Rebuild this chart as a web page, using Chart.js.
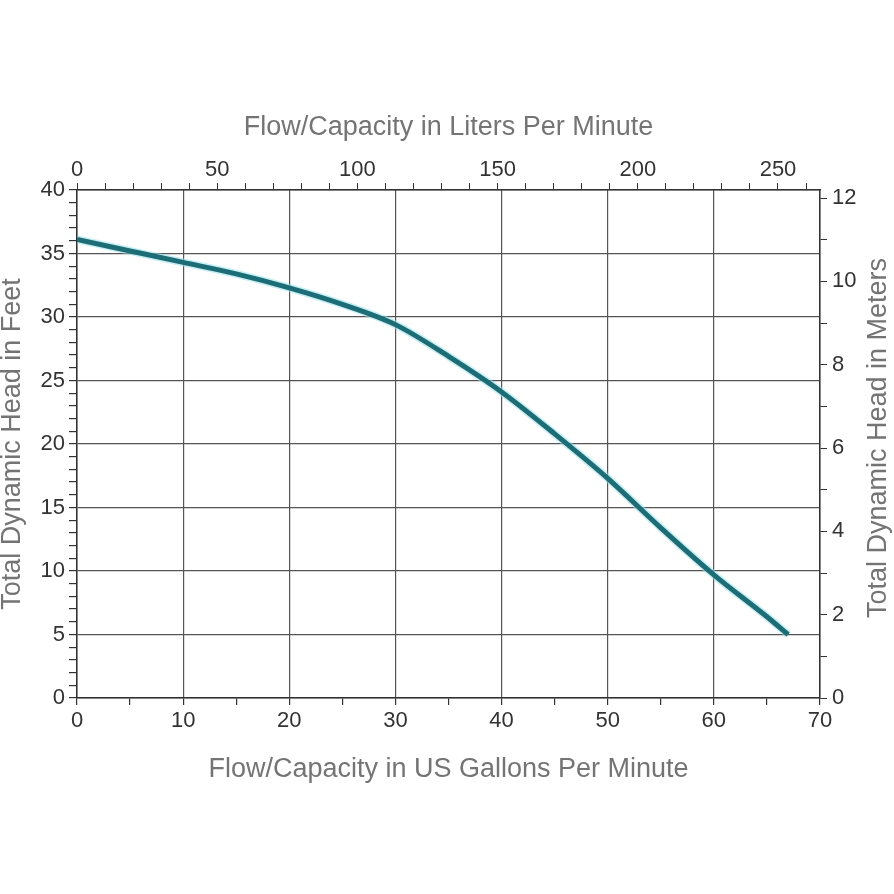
<!DOCTYPE html>
<html>
<head>
<meta charset="utf-8">
<script src="https://cdn.jsdelivr.net/npm/chart.js@4/dist/chart.umd.min.js"></script>
<style>
html,body{margin:0;padding:0;background:#fff;}
#wrap{width:894px;height:894px;}
</style>
</head>
<body>
<div id="wrap"><canvas id="c" width="894" height="894"></canvas></div>
<script>
// Data
const flowGpm = [0, 5, 10, 15, 20, 25, 30, 35, 40, 45, 50, 55, 60, 65, 67];
const headFeet = [36.1, 35.2, 34.3, 33.4, 32.3, 31.0, 29.4, 26.9, 24.1, 20.8, 17.3, 13.4, 9.7, 6.4, 5.0];

// Axis settings
const gpmMax = 70;
const feetMax = 40;
const litersPerGallon = 3.78541;
const metersPerFoot = 0.3048;
const bottomTitle = 'Flow/Capacity in US Gallons Per Minute';
const topTitle = 'Flow/Capacity in Liters Per Minute';
const leftTitle = 'Total Dynamic Head in Feet';
const rightTitle = 'Total Dynamic Head in Meters';

const points = flowGpm.map((g, i) => ({x: g, y: headFeet[i]}));

const FONT = '"Liberation Sans", Arial, sans-serif';
const tickFont = {family: FONT, size: 22};
const titleFont = {family: FONT, size: 27, lineHeight: 1};
const TICK_COLOR = '#333';
const TITLE_COLOR = '#747474';
const GRID_COLOR = '#555';
const BORDER = {color: '#333', width: 1.5};

function fixSize(prop, v) { return function(scale){ scale[prop] = v; }; }

// Right axis title reads bottom-to-top in the reference
const rightTitlePlugin = {
  id: 'rightTitle',
  afterDraw(chart) {
    const {ctx, chartArea} = chart;
    ctx.save();
    ctx.translate(879, (chartArea.top + chartArea.bottom) / 2 - 6);
    ctx.rotate(-Math.PI / 2);
    ctx.font = titleFont.size + 'px ' + FONT;
    ctx.fillStyle = TITLE_COLOR;
    ctx.textAlign = 'center';
    ctx.textBaseline = 'middle';
    ctx.fillText(rightTitle, 0, 0);
    ctx.restore();
  }
};

new Chart(document.getElementById('c'), {
  type: 'scatter',
  data: {
    datasets: [
      {data: points, showLine: true, borderColor: '#1c6d76', borderWidth: 5,
       pointRadius: 0, tension: 0.35, cubicInterpolationMode: 'monotone', xAxisID: 'x', yAxisID: 'y'},
      {data: points, showLine: true, borderColor: 'rgba(150,225,235,0.55)', borderWidth: 8,
       pointRadius: 0, tension: 0.35, cubicInterpolationMode: 'monotone', xAxisID: 'x', yAxisID: 'y'}
    ]
  },
  plugins: [rightTitlePlugin],
  options: {
    responsive: false,
    animation: false,
    layout: {padding: 0},
    plugins: {legend: {display: false}, tooltip: {enabled: false}},
    scales: {
      x: {
        type: 'linear', position: 'bottom', min: 0, max: gpmMax,
        afterFit: fixSize('height', 196),
        border: BORDER,
        grid: {
          color: ctx => (ctx.tick && ctx.tick.value % 10 === 0) ? GRID_COLOR : 'rgba(0,0,0,0)',
          tickColor: TICK_COLOR, tickLength: 7, lineWidth: 1.2
        },
        ticks: {stepSize: 5, autoSkip: false, maxRotation: 0, padding: 3, color: TICK_COLOR, font: tickFont,
          callback: v => v % 10 === 0 ? String(v) : ''},
        title: {display: true, text: bottomTitle, color: TITLE_COLOR, font: titleFont, padding: {top: 0, bottom: 111}}
      },
      x2: {
        type: 'linear', position: 'top', min: 0, max: gpmMax * litersPerGallon,
        afterFit: fixSize('height', 190),
        border: BORDER,
        grid: {drawOnChartArea: false, tickColor: TICK_COLOR, tickLength: 7},
        ticks: {stepSize: 10, includeBounds: false, autoSkip: false, maxRotation: 0, padding: 0, color: TICK_COLOR, font: tickFont,
          callback: v => v % 50 === 0 ? String(v) : ''},
        title: {display: true, text: topTitle, color: TITLE_COLOR, font: titleFont, padding: {top: 114, bottom: 0}}
      },
      y: {
        type: 'linear', position: 'left', min: 0, max: feetMax,
        afterFit: fixSize('width', 77),
        border: BORDER,
        grid: {
          color: ctx => (ctx.tick && ctx.tick.value % 5 === 0) ? GRID_COLOR : 'rgba(0,0,0,0)',
          tickColor: TICK_COLOR, tickLength: 8, lineWidth: 1.2
        },
        ticks: {stepSize: 1, autoSkip: false, padding: 4, color: TICK_COLOR, font: tickFont,
          callback: v => v % 5 === 0 ? String(v) : ''},
        title: {display: true, text: leftTitle, color: TITLE_COLOR, font: titleFont, padding: {top: -1, bottom: 0}}
      },
      y2: {
        type: 'linear', position: 'right', min: 0, max: feetMax * metersPerFoot,
        afterFit: fixSize('width', 74),
        border: BORDER,
        grid: {drawOnChartArea: false, tickColor: TICK_COLOR, tickLength: 7},
        ticks: {stepSize: 1, includeBounds: false, autoSkip: false, padding: 5, color: TICK_COLOR, font: tickFont,
          callback: v => v % 2 === 0 ? String(v) : ''},
        title: {display: false}
      }
    }
  }
});
</script>
</body>
</html>
